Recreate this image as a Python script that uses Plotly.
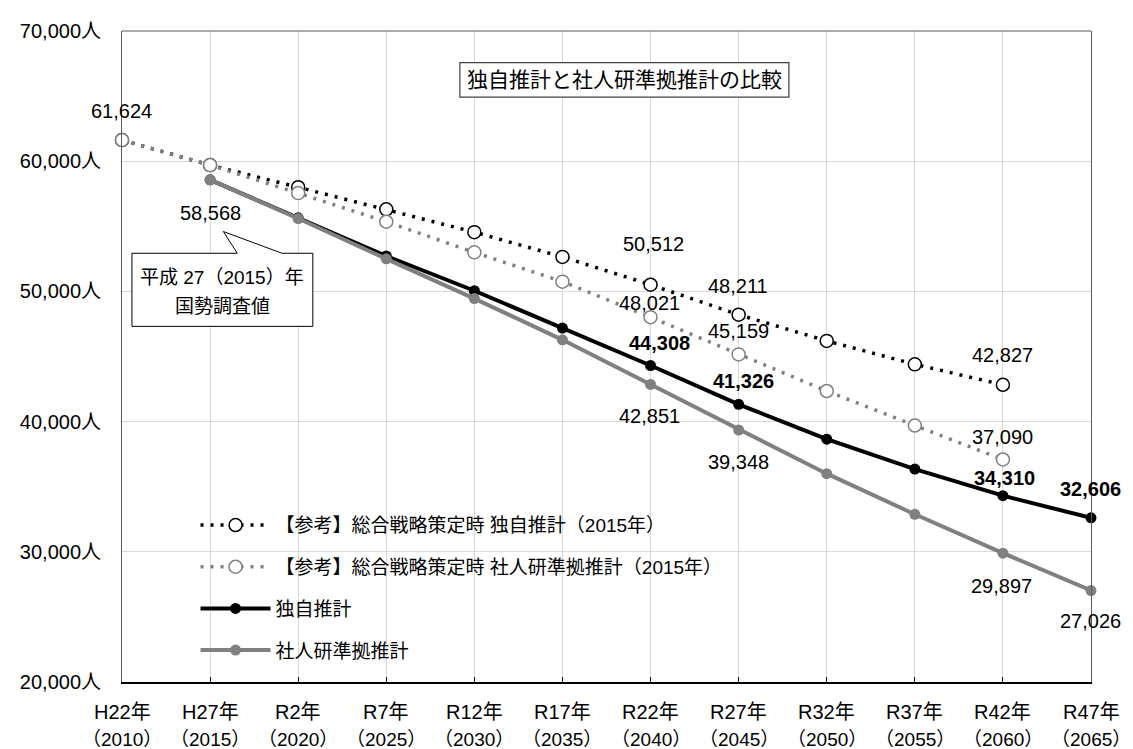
import plotly.graph_objects as go

categories = ["H22年", "H27年", "R2年", "R7年", "R12年", "R17年", "R22年",
              "R27年", "R32年", "R37年", "R42年", "R47年"]
years = ["（2010）", "（2015）", "（2020）", "（2025）", "（2030）", "（2035）",
         "（2040）", "（2045）", "（2050）", "（2055）", "（2060）", "（2065）"]

ref_own = [61624, 59700, 58000, 56300, 54550, 52650, 50512, 48211, 46200, 44400, 42827, None]
ref_ipss = [61624, 59700, 57550, 55350, 53000, 50750, 48021, 45159, 42350, 39700, 37090, None]
own = [None, 58568, 55650, 52720, 50050, 47180, 44308, 41326, 38650, 36350, 34310, 32606]
ipss = [None, 58568, 55600, 52500, 49450, 46280, 42851, 39348, 36000, 32880, 29897, 27026]

names = ["【参考】総合戦略策定時 独自推計（2015年）",
         "【参考】総合戦略策定時 社人研準拠推計（2015年）",
         "独自推計", "社人研準拠推計"]

FONT = "Liberation Sans, Arial, Noto Sans CJK JP, sans-serif"
BLACK = "#000000"
GRAY = "#808080"

fig = go.Figure()
fig.add_trace(go.Scatter(x=categories, y=ref_own, name=names[0], mode="lines+markers",
                         line=dict(color=BLACK, width=3.5, dash="3px,7px"),
                         marker=dict(symbol="circle", size=13, color="white",
                                     line=dict(color=BLACK, width=1.5)),
                         legendgroup="a", cliponaxis=False))
fig.add_trace(go.Scatter(x=categories, y=ref_ipss, name=names[1], mode="lines+markers",
                         line=dict(color=GRAY, width=3.5, dash="3px,7px"),
                         marker=dict(symbol="circle", size=13, color="white",
                                     line=dict(color=GRAY, width=1.5)),
                         legendgroup="b", cliponaxis=False))
fig.add_trace(go.Scatter(x=categories, y=own, name=names[2], mode="lines+markers",
                         line=dict(color=BLACK, width=4),
                         marker=dict(symbol="circle", size=11, color=BLACK),
                         legendgroup="c", cliponaxis=False))
fig.add_trace(go.Scatter(x=categories, y=ipss, name=names[3], mode="lines+markers",
                         line=dict(color=GRAY, width=4),
                         marker=dict(symbol="circle", size=11, color=GRAY),
                         legendgroup="d", cliponaxis=False))

# data labels: (series, index, xshift, yshift, bold)
label_specs = [
    (ref_own, 0, -1, 29, False),
    (ipss, 1, 0, -33, False),
    (ref_own, 6, 3, 41, False),
    (ref_ipss, 6, -1, 14, False),
    (own, 6, 9, 23, True),
    (ipss, 6, -1, -32, False),
    (ref_own, 7, -1, 29, False),
    (ref_ipss, 7, 0, 23, False),
    (own, 7, 5, 23, True),
    (ipss, 7, 0, -32, False),
    (ref_own, 10, 0, 30, False),
    (ref_ipss, 10, 0, 22, False),
    (own, 10, 2, 18, True),
    (ipss, 10, -1, -33, False),
    (own, 11, -1, 29, True),
    (ipss, 11, -1, -30, False),
]
for series, i, xs, ys, bold in label_specs:
    txt = f"{series[i]:,}"
    if bold:
        txt = f"<b>{txt}</b>"
    fig.add_annotation(x=categories[i], y=series[i], text=txt, showarrow=False,
                       xshift=xs, yshift=ys, font=dict(size=20, color=BLACK, family=FONT))

# Page geometry (browser adds an 8px body margin)
OFF = 8
PL, PR, PT, PB = 116, 1091, 23, 682   # plot area in page pixels
W, H = 1133 - OFF, 749 - OFF
L, T = PL - OFF, PT - OFF
R = W - L - (PR - PL)
B = H - T - (PB - PT)

def px(x):
    return (x - PL) / (PR - PL)

def py(y):
    return (PB - y) / (PB - PT)

# two-line x tick labels
for c, yr in zip(categories, years):
    fig.add_annotation(x=c, y=py(712), yref="paper", text=c, showarrow=False,
                       yanchor="middle", font=dict(size=20, color=BLACK, family=FONT))
    fig.add_annotation(x=c, y=py(740), yref="paper", text=yr, showarrow=False,
                       yanchor="middle", font=dict(size=19, color=BLACK, family=FONT))

# title box
fig.add_shape(type="rect", xref="paper", yref="paper",
              x0=px(456), x1=px(787), y0=py(90), y1=py(55),
              line=dict(color="#404040", width=1.2), fillcolor="white", layer="above")
fig.add_annotation(xref="paper", yref="paper", x=px(621.5), y=py(72.5),
                   xanchor="center", yanchor="middle",
                   text="独自推計と社人研準拠推計の比較", showarrow=False,
                   font=dict(size=21, color=BLACK, family=FONT))

# callout
path = (f"M {px(126)},{py(248)} L {px(232)},{py(248)} L {px(218)},{py(226)} "
        f"L {px(277)},{py(248)} L {px(308)},{py(248)} L {px(308)},{py(322)} "
        f"L {px(126)},{py(322)} Z")
fig.add_shape(type="path", xref="paper", yref="paper", path=path,
              line=dict(color=BLACK, width=1), fillcolor="white", layer="above")
fig.add_annotation(xref="paper", yref="paper", x=px(217), y=py(273),
                   xanchor="center", yanchor="middle",
                   text="平成 27（2015）年", showarrow=False,
                   font=dict(size=19, color=BLACK, family=FONT))
fig.add_annotation(xref="paper", yref="paper", x=px(217), y=py(302),
                   xanchor="center", yanchor="middle",
                   text="国勢調査値", showarrow=False,
                   font=dict(size=19, color=BLACK, family=FONT))

# white backdrop behind the legend (covers gridlines)
fig.add_shape(type="rect", xref="paper", yref="paper",
              x0=px(185), x1=px(794), y0=py(676), y1=py(503),
              line=dict(width=0), fillcolor="white", layer="between")

# top border
fig.add_shape(type="line", xref="paper", yref="paper", x0=0, x1=1, y0=1, y1=1,
              line=dict(color="#595959", width=1))

fig.update_layout(
    width=W, height=H,
    margin=dict(l=L, r=R, t=T, b=B),
    paper_bgcolor="white", plot_bgcolor="white",
    font=dict(family=FONT, color=BLACK, size=19),
    showlegend=True,
    legend=dict(x=px(190), y=py(504), xanchor="left", yanchor="top",
                bgcolor="rgba(0,0,0,0)", font=dict(size=19, color=BLACK, family=FONT),
                traceorder="grouped", tracegroupgap=14, itemwidth=70),
    xaxis=dict(type="category", categoryorder="array", categoryarray=categories,
               range=[0, len(categories) - 1], showticklabels=False,
               showgrid=True, gridcolor="#d9d9d9", gridwidth=1,
               showline=True, linecolor=BLACK, linewidth=2,
               ticks="inside", ticklen=5, tickcolor=BLACK, tickwidth=1),
    yaxis=dict(range=[20000, 70000], dtick=10000, tickformat=",", ticksuffix="人",
               showgrid=True, gridcolor="#d9d9d9", gridwidth=1,
               showline=True, linecolor="#595959", linewidth=1, mirror=True,
               ticks="", zeroline=False, ticklabelstandoff=16,
               tickfont=dict(size=20, color=BLACK, family=FONT)),
)

fig.write_html("out.html")
